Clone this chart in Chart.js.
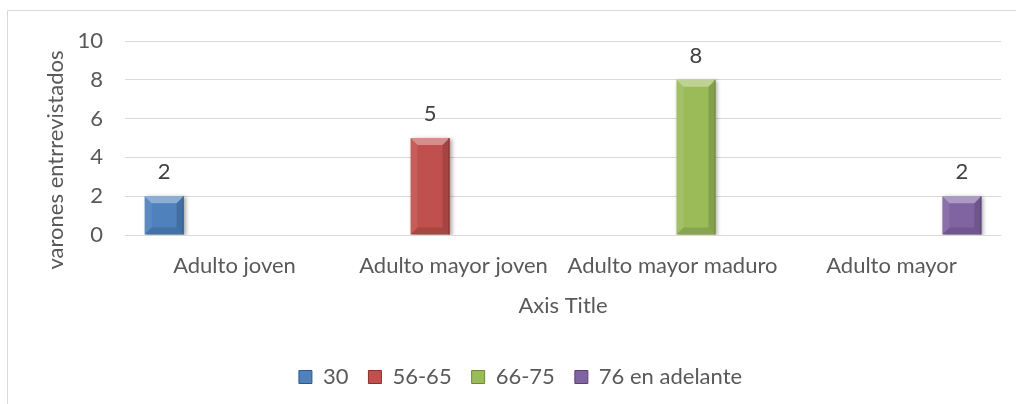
<!DOCTYPE html>
<html>
<head>
<meta charset="utf-8">
<script src="https://cdn.jsdelivr.net/npm/chart.js@4"></script>
<style>
  html, body { margin: 0; padding: 0; background: #fff; }
  #wrap { width: 1016px; height: 404px; position: relative; }
</style>
</head>
<body>
<div id="wrap"><canvas id="chart"></canvas></div>
<script>
const categories = ['Adulto joven', 'Adulto mayor joven', 'Adulto mayor maduro', 'Adulto mayor'];
const seriesNames = ['30', '56-65', '66-75', '76 en adelante'];
const values30 = [2, null, null, null];
const values56to65 = [null, 5, null, null];
const values66to75 = [null, null, 8, null];
const values76plus = [null, null, null, 2];
const yTicks = [0, 2, 4, 6, 8, 10];
const yTitle = 'varones entrrevistados';
const xTitle = 'Axis Title';

const colors = ['#4f81bd', '#c0504d', '#9bbb59', '#8064a2'];
const edgeColors = ['#2c5a8f', '#8c2f2c', '#6d8a36', '#5a4279'];
const textColor = '#595959';
const font = 'Lato';
const fontSize = 22;

const seriesValues = [values30, values56to65, values66to75, values76plus];

function poly(ctx, pts, fill) {
  ctx.beginPath();
  ctx.moveTo(pts[0][0], pts[0][1]);
  for (let i = 1; i < pts.length; i++) ctx.lineTo(pts[i][0], pts[i][1]);
  ctx.closePath();
  ctx.fillStyle = fill;
  ctx.fill();
}

// border of the chart box + y axis title
const frame = {
  id: 'frame',
  beforeDraw(chart) {
    const ctx = chart.ctx;
    ctx.save();
    ctx.strokeStyle = '#d9d9d9';
    ctx.lineWidth = 1;
    ctx.beginPath();
    ctx.moveTo(7.5, chart.height);
    ctx.lineTo(7.5, 10.5);
    ctx.lineTo(chart.width, 10.5);
    ctx.stroke();
    ctx.restore();
  },
  afterDraw(chart) {
    const ctx = chart.ctx;
    ctx.save();
    ctx.translate(56, 160);
    ctx.rotate(-Math.PI / 2);
    ctx.font = `${fontSize}px ${font}`;
    ctx.fillStyle = textColor;
    ctx.textAlign = 'center';
    ctx.textBaseline = 'middle';
    ctx.fillText(yTitle, 0, 0);
    ctx.restore();
  }
};

// bevel look, shadow and value labels
const bevel = {
  id: 'bevel',
  beforeDatasetsDraw(chart) {
    const ctx = chart.ctx;
    ctx.save();
    ctx.shadowColor = 'rgba(0,0,0,0.35)';
    ctx.shadowBlur = 4;
    ctx.shadowOffsetX = 2;
    ctx.shadowOffsetY = 1;
  },
  afterDatasetsDraw(chart) {
    const ctx = chart.ctx;
    ctx.restore();
    ctx.save();
    chart.data.datasets.forEach((ds, di) => {
      const meta = chart.getDatasetMeta(di);
      meta.data.forEach((bar, i) => {
        if (ds.data[i] == null) return;
        const { x, y, base, width } = bar.getProps(['x', 'y', 'base', 'width'], true);
        const l = x - width / 2, r = x + width / 2, t = y, b = base, e = 7;
        poly(ctx, [[l, t], [r, t], [r - e, t + e], [l + e, t + e]], 'rgba(255,255,255,0.35)');
        poly(ctx, [[l, t], [l + e, t + e], [l + e, b - e], [l, b]], 'rgba(255,255,255,0.08)');
        poly(ctx, [[r, t], [r, b], [r - e, b - e], [r - e, t + e]], 'rgba(0,0,0,0.14)');
        poly(ctx, [[l, b], [l + e, b - e], [r - e, b - e], [r, b]], 'rgba(0,0,0,0.12)');
        ctx.strokeStyle = edgeColors[di];
        ctx.lineWidth = 1;
        ctx.beginPath();
        ctx.moveTo(r - 0.5, t);
        ctx.lineTo(r - 0.5, b);
        ctx.stroke();

        ctx.font = `${fontSize}px ${font}`;
        ctx.fillStyle = '#404040';
        ctx.textAlign = 'center';
        ctx.textBaseline = 'alphabetic';
        ctx.fillText(String(ds.data[i]), x, t - 17);
      });
    });
    ctx.restore();
  }
};

new Chart(document.getElementById('chart'), {
  type: 'bar',
  data: {
    labels: categories,
    datasets: seriesNames.map((name, i) => ({
      label: name,
      data: seriesValues[i],
      backgroundColor: colors[i],
      borderWidth: 0,
      categoryPercentage: 0.857,
      barPercentage: 0.83
    }))
  },
  options: {
    responsive: true,
    maintainAspectRatio: false,
    animation: false,
    layout: { padding: { top: 41, left: 40, right: 15, bottom: 6 } },
    plugins: {
      tooltip: { enabled: false },
      legend: {
        position: 'bottom',
        labels: {
          color: textColor,
          font: { family: font, size: fontSize },
          boxWidth: 13,
          boxHeight: 13,
          padding: 20,
          generateLabels(chart) {
            return chart.data.datasets.map((ds, i) => ({
              text: ds.label,
              fillStyle: colors[i],
              strokeStyle: edgeColors[i],
              lineWidth: 1,
              fontColor: textColor,
              datasetIndex: i,
              hidden: false
            }));
          }
        }
      }
    },
    scales: {
      x: {
        grid: { display: false, drawTicks: false },
        border: { display: false },
        ticks: { color: textColor, font: { family: font, size: fontSize }, padding: 18, maxRotation: 0 },
        title: { display: true, text: xTitle, color: textColor, font: { family: font, size: fontSize }, padding: { top: 0, bottom: 27 } },
        afterFit(scale) { scale.height = 111; }
      },
      y: {
        min: yTicks[0],
        max: yTicks[yTicks.length - 1],
        afterBuildTicks(scale) { scale.ticks = yTicks.map(v => ({ value: v })); },
        grid: { color: '#d9d9d9', lineWidth: 1, drawTicks: false },
        border: { display: false },
        ticks: { color: textColor, font: { family: font, size: fontSize }, padding: 22 },
        afterFit(scale) { scale.width = 85; }
      }
    }
  },
  plugins: [frame, bevel]
});
</script>
</body>
</html>
